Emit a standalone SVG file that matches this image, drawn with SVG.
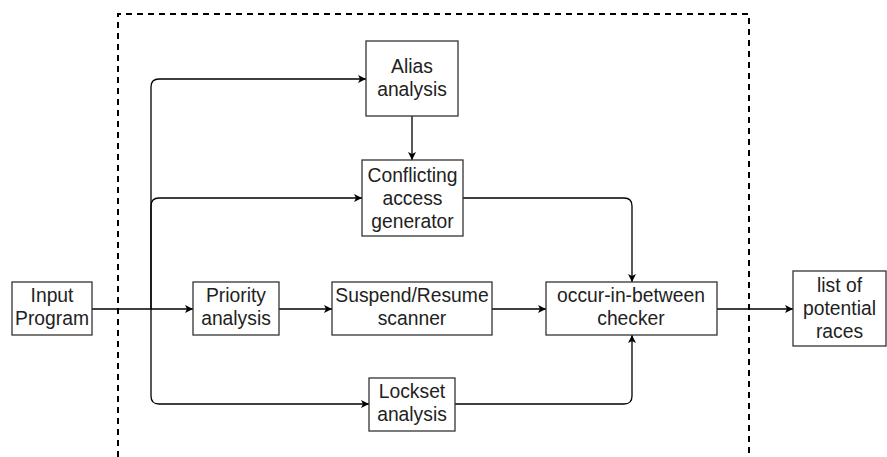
<svg xmlns="http://www.w3.org/2000/svg" width="887" height="457" viewBox="0 0 887 457">
  <style>
    .box { fill: #ffffff; stroke: #333333; stroke-width: 1.3; }
    .lbl { font-family: "Liberation Sans", Arial, sans-serif; font-size: 19.3px; fill: #222222; text-anchor: middle; }
    .edge { fill: none; stroke: #000000; stroke-width: 1.3; marker-end: url(#arrow); }
    .frame { fill: none; stroke: #000000; stroke-width: 2; stroke-dasharray: 6 5; }
  </style>
  <defs>
    <marker id="arrow" markerUnits="userSpaceOnUse" markerWidth="10" markerHeight="10" viewBox="0 0 10 10" refX="9" refY="5" orient="auto">
      <path d="M1,1 L9,5 L1,9 L3,5 Z" fill="#000000"/>
    </marker>
  </defs>
  <rect width="887" height="457" fill="#ffffff"/>

  <!-- tool boundary -->
  <path class="frame" d="M118,457 V14 H749 V457"/>

  <!-- connectors -->
  <g id="connectors">
    <path class="edge" d="M92,309 H193"/>
    <path class="edge" d="M151,309 V87 Q151,79 159,79 H366"/>
    <path class="edge" d="M151,309 V206 Q151,198 159,198 H362"/>
    <path class="edge" d="M151,309 V396 Q151,404 159,404 H369"/>
    <path class="edge" d="M412,116 V160"/>
    <path class="edge" d="M279,309 H332"/>
    <path class="edge" d="M492,309 H546"/>
    <path class="edge" d="M463,198 H624 Q632,198 632,206 V282"/>
    <path class="edge" d="M455,404 H624 Q632,404 632,396 V335"/>
    <path class="edge" d="M717,309 H793"/>
  </g>

  <g id="input-program">
    <rect class="box" x="12" y="282" width="80" height="53"/>
    <text class="lbl" x="52" y="302">Input</text>
    <text class="lbl" x="52" y="325">Program</text>
  </g>

  <g id="alias-analysis">
    <rect class="box" x="366" y="41" width="92" height="75"/>
    <text class="lbl" x="412" y="73">Alias</text>
    <text class="lbl" x="412" y="96">analysis</text>
  </g>

  <g id="conflicting-access-generator">
    <rect class="box" x="362" y="160" width="101" height="76"/>
    <text class="lbl" x="412.5" y="182">Conflicting</text>
    <text class="lbl" x="412.5" y="205">access</text>
    <text class="lbl" x="412.5" y="228">generator</text>
  </g>

  <g id="priority-analysis">
    <rect class="box" x="193" y="282" width="86" height="53"/>
    <text class="lbl" x="236" y="302">Priority</text>
    <text class="lbl" x="236" y="325">analysis</text>
  </g>

  <g id="suspend-resume-scanner">
    <rect class="box" x="332" y="282" width="160" height="53"/>
    <text class="lbl" x="412" y="302">Suspend/Resume</text>
    <text class="lbl" x="412" y="325">scanner</text>
  </g>

  <g id="occur-in-between-checker">
    <rect class="box" x="546" y="282" width="171" height="53"/>
    <text class="lbl" x="631" y="302">occur-in-between</text>
    <text class="lbl" x="631" y="325">checker</text>
  </g>

  <g id="lockset-analysis">
    <rect class="box" x="369" y="378" width="86" height="53"/>
    <text class="lbl" x="412" y="398">Lockset</text>
    <text class="lbl" x="412" y="421">analysis</text>
  </g>

  <g id="potential-races">
    <rect class="box" x="793" y="271" width="93" height="75"/>
    <text class="lbl" x="839.5" y="292">list of</text>
    <text class="lbl" x="839.5" y="315">potential</text>
    <text class="lbl" x="839.5" y="338">races</text>
  </g>
</svg>
